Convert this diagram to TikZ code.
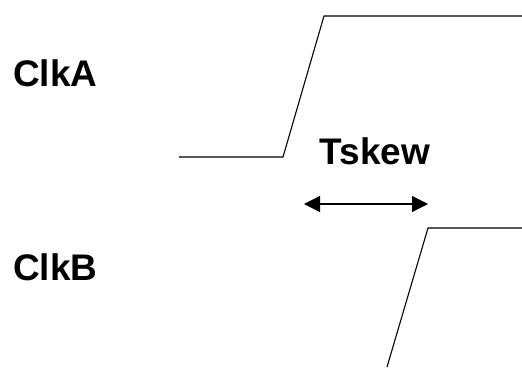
\documentclass[tikz,border=0pt]{standalone}
\usepackage{fontspec}
\setmainfont{Liberation Sans}
\usetikzlibrary{arrows.meta}
\begin{document}
\begin{tikzpicture}[x=1pt,y=-1pt,
  wave/.style={line width=1.1pt,line join=miter},
  lbl/.style={font=\bfseries\fontsize{37}{41}\selectfont,inner sep=0pt},
  skew/.style={line width=1.3pt,{Triangle[length=16pt,width=16pt]}-{Triangle[length=16pt,width=16pt]}}]
  \useasboundingbox (0,0) rectangle (522,367);
  % signal names
  \node[lbl,anchor=west] (clka) at (13,73) {ClkA};
  \node[lbl,anchor=west] (clkb) at (13,267) {ClkB};
  \node[lbl] (tskew) at (375,151) {Tskew};
  % ClkA rising edge
  \coordinate (a0) at (179,157);
  \coordinate (a1) at (283,157);
  \coordinate (a2) at (324,16);
  \coordinate (a3) at (522,16);
  \draw[wave] (a0) -- (a1) -- (a2) -- (a3);
  % ClkB rising edge, later in time
  \coordinate (b0) at (387,367);
  \coordinate (b1) at (428,228);
  \coordinate (b2) at (522,228);
  \draw[wave] (b0) -- (b1) -- (b2);
  % skew between the two edges
  \coordinate (s0) at (304,204);
  \coordinate (s1) at (428,204);
  \draw[skew] (s0) -- (s1);
\end{tikzpicture}
\end{document}
